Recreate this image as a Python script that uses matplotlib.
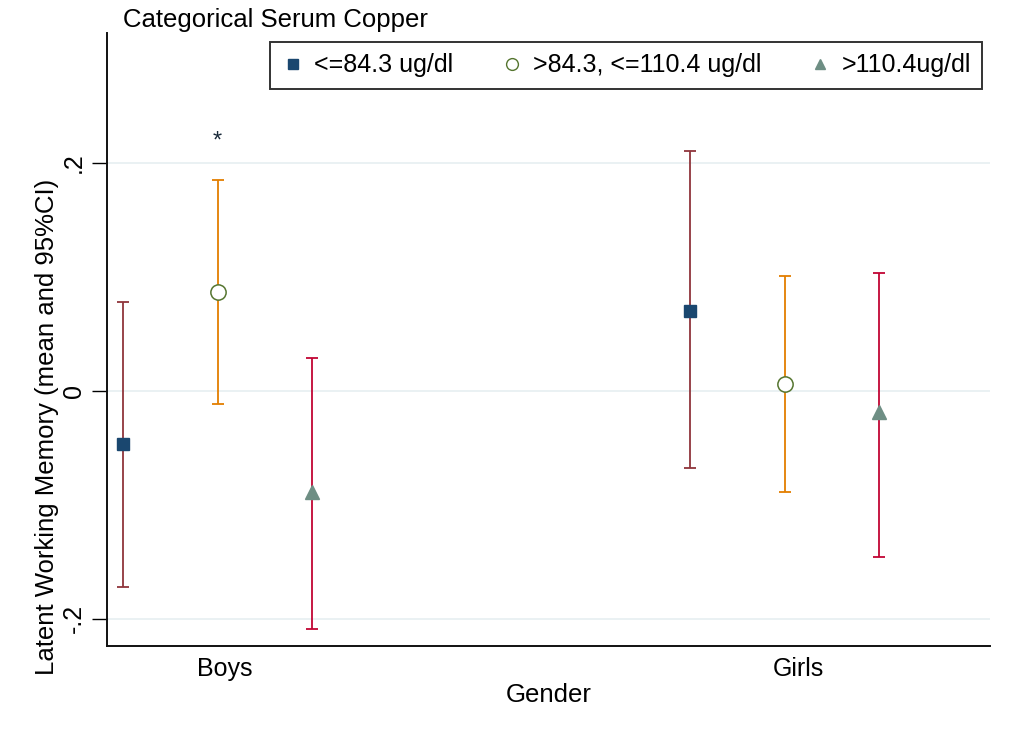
import numpy as np
import matplotlib
matplotlib.use("Agg")
import matplotlib.pyplot as plt
from matplotlib.lines import Line2D

plt.rcParams["font.family"] = ["Liberation Sans", "DejaVu Sans"]

# data
groups = ["Boys", "Girls"]
series = ["<=84.3 ug/dl", ">84.3, <=110.4 ug/dl", ">110.4ug/dl"]
means = [[-0.047, 0.070], [0.087, 0.006], [-0.089, -0.019]]
ci_low = [[-0.172, -0.068], [-0.012, -0.089], [-0.209, -0.146]]
ci_high = [[0.078, 0.210], [0.185, 0.101], [0.029, 0.103]]
star_group = 0
star_series = 1
star_y = 0.219

# stata s2color palette
marker_colors = ["#1a476f", "#55752f", "#6e8e84"]
ci_colors = ["#90353b", "#e37e00", "#c10534"]
markers = ["s", "o", "^"]
marker_sizes = [8, 11, 10]
offsets = [-1 / 6, 0, 1 / 6]

fig = plt.figure(figsize=(10.24, 7.5), dpi=100)
ax = fig.add_axes([107 / 1024, 1 - 646 / 750, 883 / 1024, 613 / 750])

x_base = np.arange(1, len(groups) + 1)
for i in range(len(series)):
    x = x_base + offsets[i]
    m = np.array(means[i])
    lo = np.array(ci_low[i])
    hi = np.array(ci_high[i])
    ax.errorbar(x, m, yerr=[m - lo, hi - m], fmt="none", ecolor=ci_colors[i],
                elinewidth=1.3, capsize=4.5, capthick=1.3, zorder=2)
    if markers[i] == "o":
        ax.plot(x, m, linestyle="none", marker="o", markersize=marker_sizes[i],
                markerfacecolor="white", markeredgecolor=marker_colors[i],
                markeredgewidth=1.1, zorder=3)
    else:
        ax.plot(x, m, linestyle="none", marker=markers[i], markersize=marker_sizes[i],
                color=marker_colors[i], zorder=3)

ax.text(x_base[star_group] + offsets[star_series], star_y, "*", ha="center",
        va="center", fontsize=17, color="#1a2a3a")

ax.set_xlim(0.805, 2.362)
ax.set_ylim(-0.224, 0.314)
ax.set_xticks(x_base * 1.012)
ax.set_xticklabels(groups, fontsize=18)
ax.tick_params(axis="x", length=0, pad=8)
ax.set_yticks([-0.2, 0, 0.2])
ax.set_yticklabels(["-.2", "0", ".2"], fontsize=18, rotation=90, va="center")
ax.tick_params(axis="y", length=11, width=1, pad=4)
ax.grid(axis="y", color="#e6eff1", linewidth=1.2)
ax.set_axisbelow(True)
for s in ["top", "right"]:
    ax.spines[s].set_visible(False)
for s in ["left", "bottom"]:
    ax.spines[s].set_linewidth(1.4)
    ax.spines[s].set_color("#111111")

ax.set_xlabel("Gender", fontsize=18.5, labelpad=1)
fig.text(47 / 1024, 1 - 427 / 750, "Latent Working Memory (mean and 95%CI)",
         rotation=90, ha="center", va="center", fontsize=18.5)
fig.text(123 / 1024, 1 - 20 / 750, "Categorical Serum Copper", ha="left",
         va="center", fontsize=18.5)

handles = []
for i in range(len(series)):
    if markers[i] == "o":
        h = Line2D([], [], linestyle="none", marker="o", markersize=8.5,
                   markerfacecolor="white", markeredgecolor=marker_colors[i])
    else:
        h = Line2D([], [], linestyle="none", marker=markers[i], markersize=7.5,
                   color=marker_colors[i])
    handles.append(h)
leg = ax.legend(handles, series, ncol=3, loc="upper right",
                bbox_to_anchor=(982 / 1024, 1 - 42 / 750),
                bbox_transform=fig.transFigure, fontsize=18, frameon=True,
                fancybox=False, edgecolor="black", handletextpad=0.4,
                columnspacing=1.9, handlelength=0.9, borderpad=0.45,
                borderaxespad=0)
leg.get_frame().set_linewidth(1.4)

fig.savefig("out.png", dpi=100)
